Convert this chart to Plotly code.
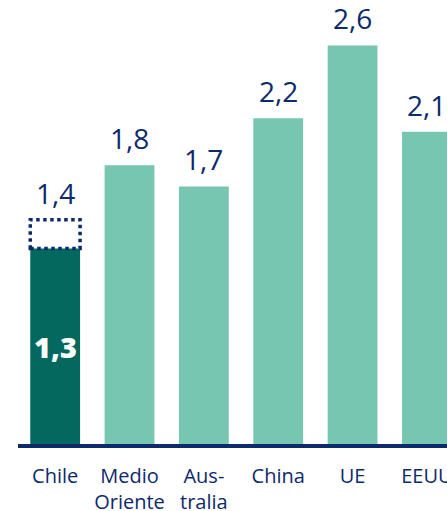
import plotly.graph_objects as go

# datos
regiones = ["Chile", "Medio<br>Oriente", "Aus-<br>tralia", "China", "UE", "EEUU"]
valores = [1.29, 1.84, 1.70, 2.15, 2.63, 2.06]
etiquetas = ["1,3", "1,8", "1,7", "2,2", "2,6", "2,1"]
chile_meta = 1.48
chile_meta_etiqueta = "1,4"

AZUL = "#0d2a6a"
VERDE = "#76c6b1"
VERDE_OSCURO = "#03695e"
FUENTE = "Open Sans"

colores = [VERDE_OSCURO] + [VERDE] * (len(regiones) - 1)
x = list(range(len(regiones)))

fig = go.Figure()
fig.add_trace(go.Bar(
    x=x,
    y=valores,
    width=0.67,
    marker=dict(color=colores, line=dict(width=0)),
    hoverinfo="skip",
))

# etiquetas sobre las barras (Chile lleva la meta encima)
for i, (v, t) in enumerate(zip(valores, etiquetas)):
    if i == 0:
        fig.add_annotation(x=i, y=v / 2, text=t, showarrow=False,
                           font=dict(family=FUENTE, size=29, color="white", weight=800))
        continue
    fig.add_annotation(x=i, y=v, text=t, showarrow=False, yanchor="bottom", yshift=6,
                       font=dict(family=FUENTE, size=28, color=AZUL))

fig.add_annotation(x=0, y=chile_meta, text=chile_meta_etiqueta, showarrow=False,
                   yanchor="bottom", yshift=6, font=dict(family=FUENTE, size=28, color=AZUL))

# recuadro punteado de la meta de Chile
fig.add_shape(type="rect", x0=-0.335, x1=0.335, y0=valores[0], y1=chile_meta,
              line=dict(color=AZUL, width=3.5, dash="dot"), layer="above")

fig.update_layout(
    width=447,
    height=511,
    margin=dict(l=18, r=0, t=0, b=67),
    paper_bgcolor="white",
    plot_bgcolor="white",
    showlegend=False,
    xaxis=dict(
        range=[-0.5, 5.27],
        tickmode="array",
        tickvals=x,
        ticktext=regiones,
        showgrid=False,
        zeroline=False,
        showline=True,
        linecolor=AZUL,
        linewidth=4,
        ticks="",
        ticklabelstandoff=11,
        ticklabeloverflow="allow",
        automargin=False,
        tickfont=dict(family=FUENTE, size=20, color=AZUL),
        fixedrange=True,
    ),
    yaxis=dict(
        range=[0, 2.93],
        visible=False,
        fixedrange=True,
    ),
)

# la figura ocupa justo la ventana: sin margen ni barras de desplazamiento
ajuste_pagina = (
    "document.documentElement.style.overflow='hidden';"
    "document.body.style.overflow='hidden';"
    "document.body.style.margin='0';"
)
fig.write_html("out.html", config={"displayModeBar": False, "responsive": False},
               post_script=ajuste_pagina)
